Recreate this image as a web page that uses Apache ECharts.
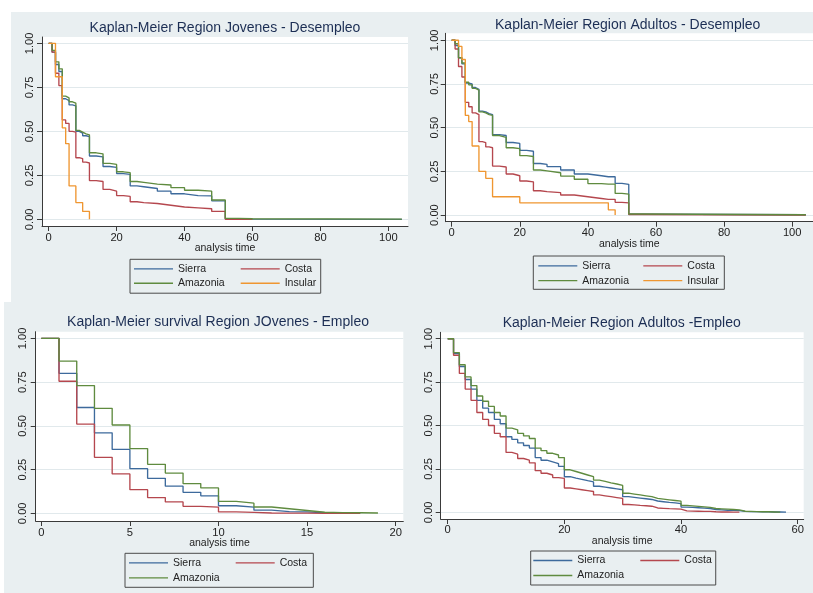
<!DOCTYPE html>
<html lang="es">
<head>
    <meta charset="utf-8">
    <title>Kaplan-Meier por región</title>
    <script src="https://cdn.jsdelivr.net/npm/echarts@6/dist/echarts.min.js"></script>
    <style>
        html, body { margin: 0; padding: 0; background: #ffffff; }
        #wrap { position: relative; width: 813px; height: 593px; overflow: hidden; }
        .fondo { position: absolute; background: #e9eff1; }
        #main { position: absolute; left: 0; top: 0; width: 813px; height: 593px; }
    </style>
</head>
<body>
<div id="wrap">
    <!-- fondo gris de los cuatro graficos -->
    <div class="fondo" style="left:11px;top:12px;width:802px;height:290px;"></div>
    <div class="fondo" style="left:4px;top:302px;width:809px;height:291px;"></div>
    <div id="main"></div>
</div>
<script type="text/javascript">
    // ---- datos ----
    var regiones = ['Sierra', 'Costa', 'Amazonia', 'Insular'];

    // Jovenes - Desempleo
    var tiempoJD = [0, 1, 2, 3, 4, 5, 6, 7, 8, 9, 10, 11, 12, 14, 16, 18, 20, 22, 24, 26, 28, 32, 36, 40, 44, 48, 52, 56, 60, 104];
    var sierraJD = [1, 0.95, 0.88, 0.84, 0.685, 0.675, 0.65, 0.645, 0.50, 0.49, 0.475, 0.47, 0.36, 0.355, 0.30, 0.295, 0.26, 0.255, 0.19, 0.185, 0.175, 0.16, 0.145, 0.135, 0.133, 0.105, 0.003, 0.001, 0, 0];
    var costaJD = [1, 0.95, 0.83, 0.76, 0.565, 0.545, 0.50, 0.495, 0.35, 0.345, 0.325, 0.32, 0.22, 0.215, 0.17, 0.16, 0.135, 0.13, 0.10, 0.095, 0.09, 0.08, 0.07, 0.065, 0.06, 0.045, 0, 0, 0, null];
    var amazoniaJD = [1, 0.96, 0.895, 0.855, 0.70, 0.69, 0.668, 0.66, 0.505, 0.495, 0.485, 0.48, 0.378, 0.372, 0.318, 0.312, 0.27, 0.265, 0.215, 0.21, 0.20, 0.195, 0.18, 0.165, 0.16, 0.11, 0.005, 0.003, 0.001, 0];
    var insularJD = [1, 1, 0.81, 0.81, 0.52, 0.43, 0.19, 0.19, 0.095, 0.095, 0.045, 0.045, 0, null, null, null, null, null, null, null, null, null, null, null, null, null, null, null, null, null];

    // Adultos - Desempleo
    var tiempoAD = [0, 1, 2, 3, 4, 5, 6, 7, 8, 9, 10, 11, 12, 14, 16, 18, 20, 22, 24, 26, 28, 32, 36, 40, 44, 46, 48, 50, 52, 56, 104];
    var sierraAD = [1, 0.97, 0.90, 0.865, 0.755, 0.75, 0.73, 0.72, 0.595, 0.59, 0.58, 0.575, 0.46, 0.455, 0.415, 0.41, 0.37, 0.365, 0.295, 0.29, 0.277, 0.258, 0.235, 0.225, 0.219, 0.219, 0.181, 0.176, 0.005, 0.002, 0];
    var costaAD = [1, 0.95, 0.85, 0.79, 0.645, 0.62, 0.585, 0.575, 0.42, 0.415, 0.39, 0.385, 0.28, 0.275, 0.235, 0.225, 0.195, 0.19, 0.139, 0.134, 0.128, 0.115, 0.105, 0.095, 0.09, 0.09, 0.073, 0.07, 0.003, 0, 0];
    var amazoniaAD = [1, 0.98, 0.90, 0.87, 0.76, 0.745, 0.725, 0.715, 0.59, 0.585, 0.575, 0.57, 0.455, 0.445, 0.385, 0.38, 0.34, 0.335, 0.258, 0.253, 0.242, 0.223, 0.205, 0.18, 0.177, 0.177, 0.124, 0.12, 0.006, 0.002, 0];
    var insularAD = [1, 1, 0.965, 0.89, 0.57, 0.535, 0.395, 0.395, 0.25, 0.25, 0.21, 0.21, 0.105, 0.105, 0.105, 0.105, 0.07, 0.07, 0.07, 0.07, 0.07, 0.07, 0.07, 0.07, 0.07, 0.03, 0, null, null, null, null];

    // Jovenes - Empleo
    var tiempoJE = [0, 1, 2, 3, 4, 5, 6, 7, 8, 9, 10, 11, 12, 13, 14, 15, 16, 17, 18, 19];
    var sierraJE = [1, 0.80, 0.605, 0.46, 0.365, 0.255, 0.20, 0.155, 0.12, 0.10, 0.043, 0.035, 0.018, 0.01, 0.008, 0.003, 0.002, 0.001, 0, null];
    var costaJE = [1, 0.755, 0.51, 0.32, 0.225, 0.135, 0.09, 0.065, 0.04, 0.035, 0.008, 0.005, 0.002, 0.001, 0.001, 0, 0, 0, 0, null];
    var amazoniaJE = [1, 0.87, 0.73, 0.60, 0.505, 0.37, 0.28, 0.23, 0.17, 0.145, 0.068, 0.058, 0.036, 0.026, 0.016, 0.006, 0.004, 0.003, 0.002, 0];

    // Adultos - Empleo
    var tiempoAE = [0, 1, 2, 3, 4, 5, 6, 7, 8, 9, 10, 11, 12, 13, 14, 15, 16, 17, 18, 19, 20, 21, 22, 23, 24, 25, 26, 27, 28, 29,
        30, 31, 32, 33, 34, 35, 36, 37, 38, 39, 40, 41, 42, 43, 44, 45, 46, 47, 48, 49, 50, 51, 52, 53, 54, 55, 56, 57, 58];
    var sierraAE = [1, 0.915, 0.84, 0.765, 0.71, 0.645, 0.60, 0.575, 0.535, 0.51,
        0.435, 0.42, 0.40, 0.385, 0.37, 0.315, 0.30, 0.29, 0.28, 0.265,
        0.205, 0.197, 0.19, 0.182, 0.175, 0.15, 0.145, 0.14, 0.135, 0.13,
        0.09, 0.086, 0.082, 0.078, 0.074, 0.065, 0.061, 0.057, 0.054, 0.05,
        0.03, 0.028, 0.026, 0.024, 0.022, 0.016, 0.014, 0.012, 0.011, 0.01,
        0.005, 0.004, 0.004, 0.003, 0.003, 0.002, 0.002, 0.001, 0];
    var costaAE = [1, 0.905, 0.80, 0.71, 0.645, 0.575, 0.535, 0.50, 0.455, 0.435,
        0.345, 0.335, 0.31, 0.30, 0.285, 0.24, 0.225, 0.215, 0.20, 0.195,
        0.14, 0.135, 0.13, 0.125, 0.12, 0.10, 0.095, 0.09, 0.085, 0.08,
        0.045, 0.043, 0.04, 0.038, 0.035, 0.025, 0.023, 0.021, 0.02, 0.018,
        0.008, 0.007, 0.006, 0.005, 0.005, 0.003, 0.002, 0.002, 0.001, 0.001,
        0, null, null, null, null, null, null, null, null];
    var amazoniaAE = [1, 0.92, 0.85, 0.78, 0.73, 0.67, 0.64, 0.61, 0.575, 0.555,
        0.485, 0.475, 0.455, 0.44, 0.425, 0.37, 0.355, 0.34, 0.33, 0.315,
        0.245, 0.235, 0.225, 0.215, 0.205, 0.185, 0.178, 0.17, 0.163, 0.155,
        0.11, 0.105, 0.10, 0.095, 0.09, 0.08, 0.076, 0.072, 0.068, 0.064,
        0.04, 0.037, 0.034, 0.031, 0.028, 0.022, 0.02, 0.018, 0.016, 0.014,
        0.006, 0.005, 0.004, 0.003, 0.003, 0.002, 0.001, 0, null];

    // marcas de los ejes
    var ticksY = [0, 0.25, 0.5, 0.75, 1];
    var ticksX100 = [0, 20, 40, 60, 80, 100];
    var ticksX20 = [0, 5, 10, 15, 20];
    var ticksX60 = [0, 20, 40, 60];

    var titulos = [
        'Kaplan-Meier Region Jovenes - Desempleo',
        'Kaplan-Meier Region Adultos - Desempleo',
        'Kaplan-Meier survival Region JOvenes - Empleo',
        'Kaplan-Meier Region Adultos -Empleo'
    ];

    // ---- estilo ----
    var colores = { Sierra: '#3d6a9c', Costa: '#b5474e', Amazonia: '#5f8b3f', Insular: '#ef9631' };
    var fuente = '"Liberation Sans", Arial, Helvetica, sans-serif';
    var ejeColor = '#3a3a3a';

    // posicion de cada panel (pixeles)
    var paneles = [
        { grid: { left: 42, top: 37, width: 366, height: 189 }, xMin: -1.97, xMax: 105.8, yMin: -0.038, yMax: 1.036, ticks: ticksX100,
          tX: 225, tTop: 20, mX: 6.5, mY: 7, gap: 17,
          lg: { left: 130, top: 259.3, lh: 14.3, pad: [2.5, 4.5, 2.8, 4], w1: 62.7 } },
        { grid: { left: 445.7, top: 33.3, width: 367.3, height: 188.4 }, xMin: -1.76, xMax: 106.1, yMin: -0.038, yMax: 1.040, ticks: ticksX100,
          tX: 627.7, tTop: 17, mX: 6, mY: 5.5, gap: 16.5,
          lg: { left: 533.3, top: 256, lh: 14.7, pad: [2.6, 5.5, 1.3, 5], w1: 61 } },
        { grid: { left: 35.7, top: 331.7, width: 367.6, height: 189.3 }, xMin: -0.316, xMax: 20.43, yMin: -0.044, yMax: 1.038, ticks: ticksX20,
          tX: 218, tTop: 314.3, mX: 6.5, mY: 7, gap: 16.5,
          lg: { left: 125, top: 553.3, lh: 15, pad: [2, 6.2, 2, 4], w1: 62.7 } },
        { grid: { left: 440.7, top: 332.3, width: 363, height: 186.7 }, xMin: -1.2, xMax: 61.03, yMin: -0.0386, yMax: 1.037, ticks: ticksX60,
          tX: 621.7, tTop: 315.3, mX: 5.5, mY: 6.5, gap: 16.5,
          lg: { left: 530.7, top: 551, lh: 15, pad: [2, 4, 2, 2.6], w1: 63 } }
    ];

    var curvas = [
        [tiempoJD, { Sierra: sierraJD, Costa: costaJD, Amazonia: amazoniaJD, Insular: insularJD }],
        [tiempoAD, { Sierra: sierraAD, Costa: costaAD, Amazonia: amazoniaAD, Insular: insularAD }],
        [tiempoJE, { Sierra: sierraJE, Costa: costaJE, Amazonia: amazoniaJE }],
        [tiempoAE, { Sierra: sierraAE, Costa: costaAE, Amazonia: amazoniaAE }]
    ];

    var grids = [], xAxes = [], yAxes = [], titles = [], legends = [], series = [];

    paneles.forEach(function (p, i) {
        grids.push({
            left: p.grid.left, top: p.grid.top, width: p.grid.width, height: p.grid.height,
            show: true, backgroundColor: '#ffffff', borderWidth: 0,
            containLabel: false, outerBoundsMode: 'none'
        });
        xAxes.push({
            gridIndex: i, type: 'value', min: p.xMin, max: p.xMax,
            axisLine: { show: true, onZero: false, lineStyle: { color: ejeColor, width: 1 } },
            axisTick: { show: true, length: 5, customValues: p.ticks, lineStyle: { color: ejeColor } },
            axisLabel: { customValues: p.ticks, margin: p.mX, fontSize: 11.2, color: '#222', fontFamily: fuente },
            splitLine: { show: false },
            name: 'analysis time', nameLocation: 'middle', nameGap: p.gap, nameMoveOverlap: false,
            nameTextStyle: { fontSize: 10.5, color: '#222', fontFamily: fuente }
        });
        yAxes.push({
            gridIndex: i, type: 'value', min: p.yMin, max: p.yMax,
            axisLine: { show: true, onZero: false, lineStyle: { color: ejeColor, width: 1 } },
            axisTick: { show: true, length: 5, customValues: ticksY, lineStyle: { color: ejeColor } },
            axisLabel: {
                customValues: ticksY, rotate: 90, margin: p.mY, fontSize: 11.2, color: '#222', fontFamily: fuente,
                formatter: function (v) { return v.toFixed(2); }
            },
            splitLine: { show: true, customValues: ticksY, lineStyle: { color: '#e1e9ec', width: 1.2 } }
        });
        titles.push({
            text: titulos[i], left: p.tX, top: p.tTop, textAlign: 'center', padding: 0,
            textStyle: { fontSize: 14, fontWeight: 'normal', color: '#1c2e54', fontFamily: fuente, lineHeight: 16 }
        });

        var nombres = Object.keys(curvas[i][1]);
        legends.push({
            left: p.lg.left, top: p.lg.top, width: 184, orient: 'horizontal',
            padding: p.lg.pad, itemGap: 0, itemWidth: 39, itemHeight: 1.3, icon: 'rect',
            selectedMode: false, borderColor: '#4a4a4a', borderWidth: 1, borderRadius: 0,
            itemStyle: { borderWidth: 0 },
            textStyle: { fontSize: 10.5, color: '#222', fontFamily: fuente, lineHeight: p.lg.lh },
            data: nombres.map(function (n, k) {
                return k % 2 === 0 ? { name: n, textStyle: { width: p.lg.w1 } } : { name: n };
            })
        });

        nombres.forEach(function (n) {
            var t = curvas[i][0], v = curvas[i][1][n];
            series.push({
                name: n, type: 'line', step: 'end', xAxisIndex: i, yAxisIndex: i,
                data: t.map(function (x, k) { return [x, v[k]]; }).filter(function (d) { return d[1] != null; }),
                symbol: 'none', showSymbol: false, silent: true,
                lineStyle: { width: 1.35, color: colores[n] },
                itemStyle: { color: colores[n] }
            });
        });
    });

    var chart = echarts.init(document.getElementById('main'), null, { renderer: 'canvas' });
    chart.setOption({
        animation: false,
        backgroundColor: 'transparent',
        textStyle: { fontFamily: fuente },
        title: titles,
        legend: legends,
        grid: grids,
        xAxis: xAxes,
        yAxis: yAxes,
        series: series
    });
</script>
</body>
</html>
